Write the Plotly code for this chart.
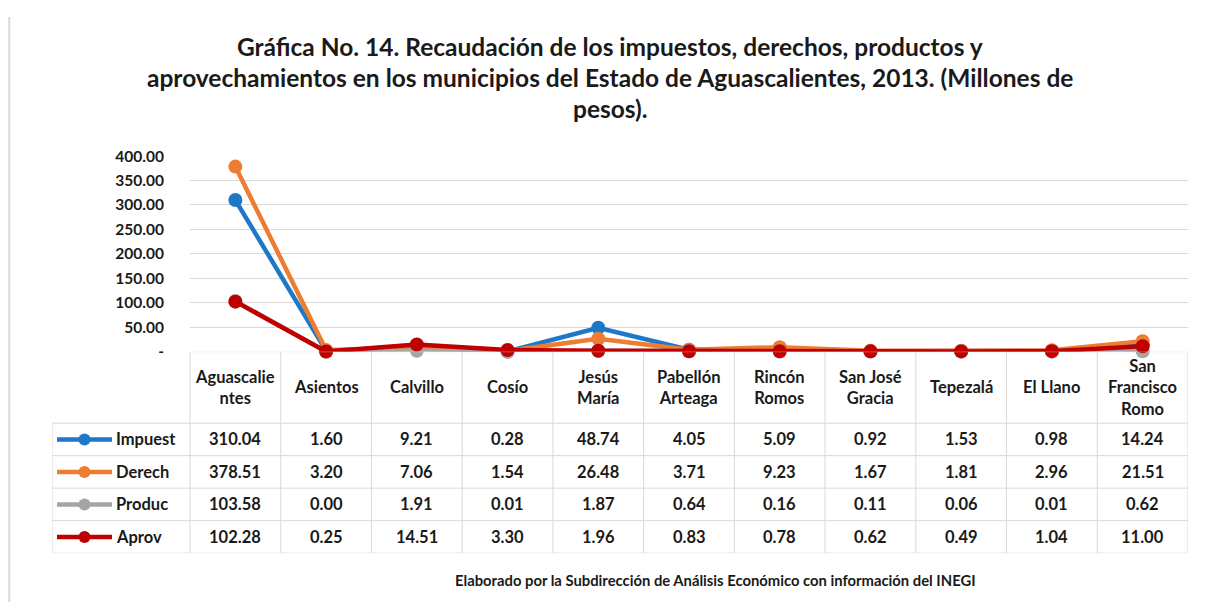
import plotly.graph_objects as go

# datos (millones de pesos, 2013)
municipios = ["Aguascalientes", "Asientos", "Calvillo", "Cosío", "Jesús María",
              "Pabellón Arteaga", "Rincón Romos", "San José Gracia", "Tepezalá",
              "El Llano", "San Francisco Romo"]
encabezados = ["Aguascalie<br>ntes", "Asientos", "Calvillo", "Cosío", "Jesús<br>María",
               "Pabellón<br>Arteaga", "Rincón<br>Romos", "San José<br>Gracia", "Tepezalá",
               "El Llano", "San<br>Francisco<br>Romo"]
impuestos = [310.04, 1.60, 9.21, 0.28, 48.74, 4.05, 5.09, 0.92, 1.53, 0.98, 14.24]
derechos = [378.51, 3.20, 7.06, 1.54, 26.48, 3.71, 9.23, 1.67, 1.81, 2.96, 21.51]
productos = [103.58, 0.00, 1.91, 0.01, 1.87, 0.64, 0.16, 0.11, 0.06, 0.01, 0.62]
aprovechamientos = [102.28, 0.25, 14.51, 3.30, 1.96, 0.83, 0.78, 0.62, 0.49, 1.04, 11.00]
series = ["Impuest", "Derech", "Produc", "Aprov"]
colores = ["#1F77C8", "#ED7D31", "#A5A5A5", "#C00000"]
y_ticks = [0, 50, 100, 150, 200, 250, 300, 350, 400]
y_tick_text = ["-", "50.00", "100.00", "150.00", "200.00", "250.00", "300.00", "350.00", "400.00"]

titulo = ["Gráfica No. 14. Recaudación de los impuestos, derechos, productos y",
          "aprovechamientos en los municipios del Estado de Aguascalientes, 2013. (Millones de",
          "pesos)."]
fuente = "Elaborado por la Subdirección de Análisis Económico con información del INEGI"

W, H = 1209, 602
FONT = "Lato"
TXT = "#1a1a1a"
GRID = "#d9d9d9"

# page offset / squeeze seen in the rendered screenshot
OX, OY, SY = 8, 16, 0.974


def px(x):
    return (x - OX) / W


def py(y):
    return 1 - (y / SY - OY) / H


valores = [impuestos, derechos, productos, aprovechamientos]
idx = list(range(len(municipios)))

# plot area / table geometry (pixels of the target picture)
left_plot, right_plot = 190, 1188
left_tab = 52
unit = (right_plot - left_plot) / len(municipios)


def u(xpix):
    return -0.5 + (xpix - left_plot) / unit


hdr = 2.2
n_rows = hdr + len(series)

fig = go.Figure()

for name, vals, c in zip(series, valores, colores):
    fig.add_trace(go.Scatter(x=idx, y=vals, mode='lines+markers', name=name,
                             line={'color': c, 'width': 4.5},
                             marker={'color': c, 'size': 14},
                             cliponaxis=False, showlegend=False,
                             hovertext=municipios, xaxis='x', yaxis='y'))

# legend keys inside the table
for j, (name, c) in enumerate(zip(series, colores)):
    yc = hdr + j + 0.5
    fig.add_trace(go.Scatter(x=[u(57), u(112)], y=[yc, yc], mode='lines',
                             line={'color': c, 'width': 4.5}, showlegend=False,
                             hoverinfo='skip', xaxis='x2', yaxis='y2'))
    fig.add_trace(go.Scatter(x=[u(84.5)], y=[yc], mode='markers',
                             marker={'color': c, 'size': 12}, showlegend=False,
                             hoverinfo='skip', xaxis='x2', yaxis='y2'))

shapes = []
# table grid
for k in range(len(municipios) + 1):
    shapes.append(dict(type='line', xref='x2', yref='y2', x0=k - 0.5, x1=k - 0.5,
                       y0=0, y1=n_rows, line={'color': GRID, 'width': 1}))
shapes.append(dict(type='line', xref='x2', yref='y2', x0=u(left_tab), x1=u(left_tab),
                   y0=hdr, y1=n_rows, line={'color': GRID, 'width': 1}))
for j in range(len(series) + 1):
    shapes.append(dict(type='line', xref='x2', yref='y2', x0=u(left_tab), x1=len(municipios) - 0.5,
                       y0=hdr + j, y1=hdr + j, line={'color': GRID, 'width': 1}))
shapes.append(dict(type='line', xref='x2', yref='y2', x0=-0.5, x1=len(municipios) - 0.5,
                   y0=0, y1=0, line={'color': GRID, 'width': 1}))
# outer frame (left side)
shapes.append(dict(type='line', xref='paper', yref='paper', x0=0.001, x1=0.001, y0=0, y1=1,
                   line={'color': GRID, 'width': 2}))

annotations = []
cell_font = {'family': FONT, 'size': 16.5, 'color': TXT}
for i, h in enumerate(encabezados):
    annotations.append(dict(x=i, y=hdr / 2, xref='x2', yref='y2', text='<b>%s</b>' % h,
                            showarrow=False, yanchor='middle', font=cell_font))
for j, (name, vals) in enumerate(zip(series, valores)):
    yc = hdr + j + 0.5
    annotations.append(dict(x=u(114), y=yc, xref='x2', yref='y2', text='<b>%s</b>' % name,
                            xanchor='left', yanchor='middle', showarrow=False, font=cell_font))
    for i, v in enumerate(vals):
        annotations.append(dict(x=i, y=yc, xref='x2', yref='y2', text='<b>%.2f</b>' % v,
                                showarrow=False, yanchor='middle', font=cell_font))

for k, line in enumerate(titulo):
    annotations.append(dict(x=px(610), y=py(45 + 31 * k), xref='paper', yref='paper',
                            text='<b>%s</b>' % line, showarrow=False,
                            xanchor='center', yanchor='middle',
                            font={'family': FONT, 'size': 24.5, 'color': TXT}))
annotations.append(dict(x=px(715), y=py(580), xref='paper', yref='paper', text='<b>%s</b>' % fuente,
                        showarrow=False, xanchor='center', yanchor='middle',
                        font={'family': FONT, 'size': 14.8, 'color': TXT}))

fig.update_layout(
    width=W, height=H,
    margin=dict(l=0, r=0, t=0, b=0),
    plot_bgcolor='white', paper_bgcolor='white',
    font={'family': FONT, 'color': TXT},
    xaxis=dict(domain=[px(left_plot), px(right_plot)], range=[-0.5, len(municipios) - 0.5],
               showticklabels=False, showgrid=False, zeroline=False, showline=False, fixedrange=True),
    yaxis=dict(domain=[py(351), py(154)], range=[0, 402], tickvals=y_ticks,
               ticktext=['<b>%s</b>' % t for t in y_tick_text],
               showgrid=True, gridcolor=GRID, gridwidth=1, zeroline=False, showline=False,
               ticklabelstandoff=25, tickfont={'family': FONT, 'size': 15.5, 'color': TXT},
               fixedrange=True),
    xaxis2=dict(domain=[px(left_tab), px(right_plot)], range=[u(left_tab), len(municipios) - 0.5],
                anchor='y2', visible=False, fixedrange=True),
    yaxis2=dict(domain=[py(553), py(351)], range=[n_rows, 0], anchor='x2', visible=False,
                fixedrange=True),
    shapes=shapes,
    annotations=annotations,
)

fig.write_html("out.html")
